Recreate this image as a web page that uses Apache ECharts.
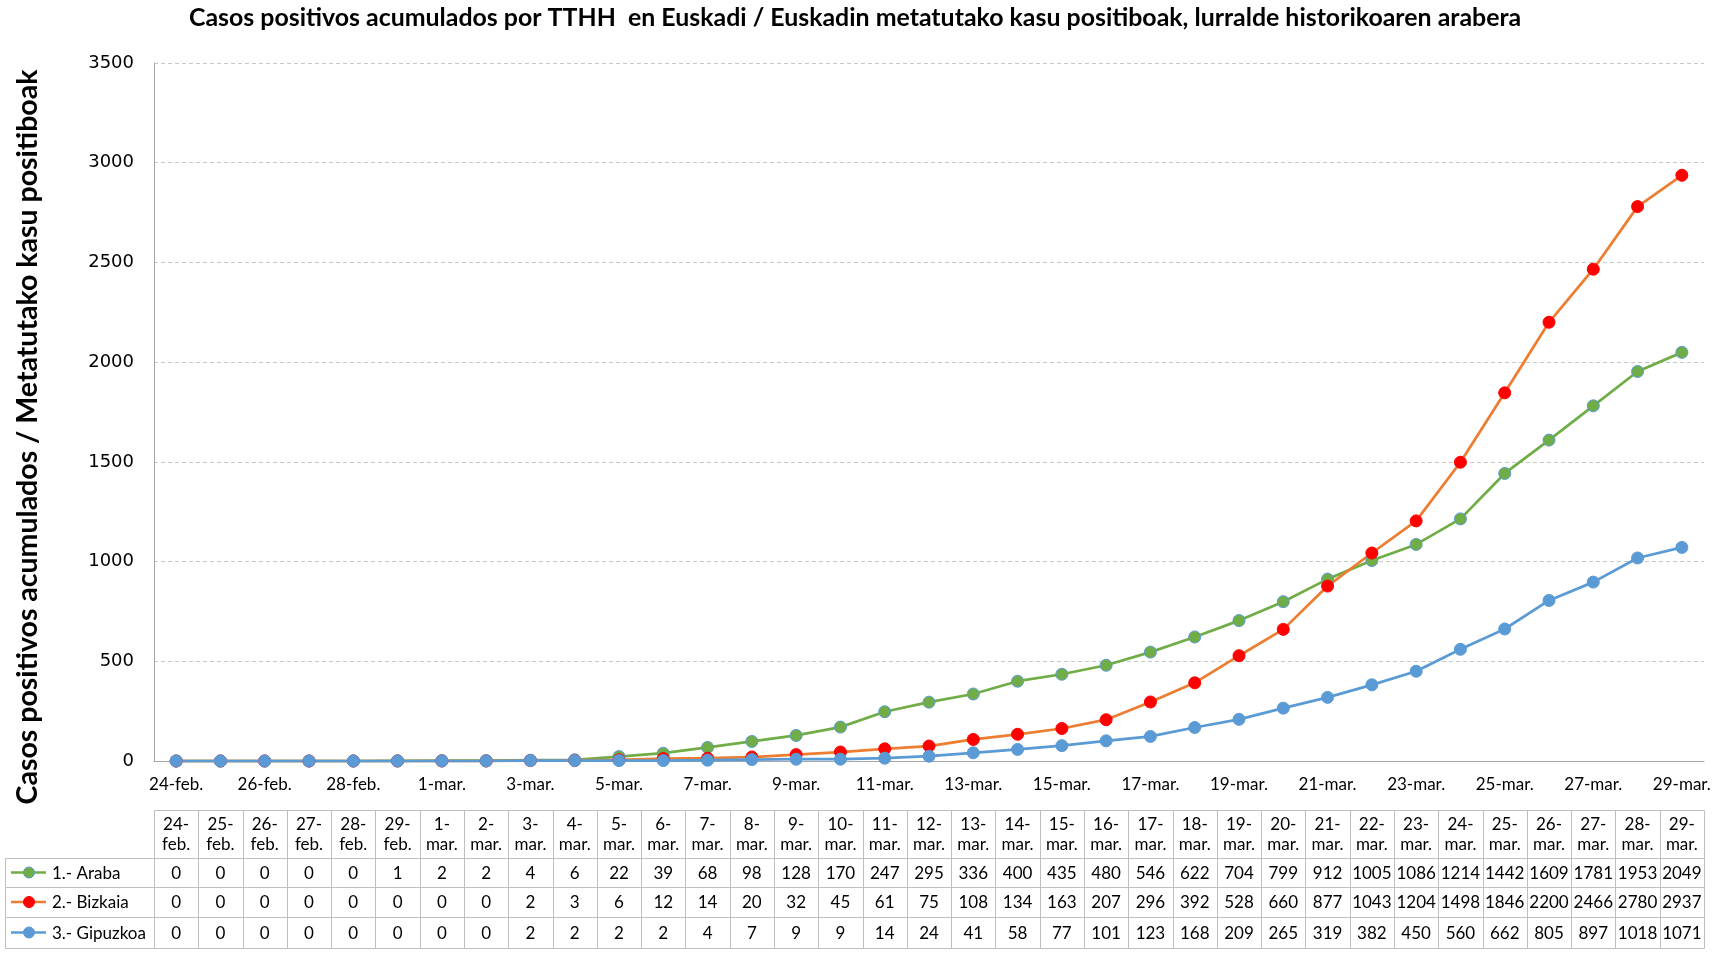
<!DOCTYPE html>
<html>
<head>
<meta charset="utf-8">
<script src="https://cdn.jsdelivr.net/npm/echarts@6/dist/echarts.min.js"></script>
<style>
html,body{margin:0;padding:0;background:#fff;}
#chart{width:1724px;height:965px;}
</style>
</head>
<body>
<div id="chart"></div>
<script>
const chartTitle = 'Casos positivos acumulados por TTHH  en Euskadi / Euskadin metatutako kasu positiboak, lurralde historikoaren arabera';
const yAxisTitle = 'Casos positivos acumulados / Metatutako kasu positiboak';
const dates = ['24-feb.','25-feb.','26-feb.','27-feb.','28-feb.','29-feb.',
  '1-mar.','2-mar.','3-mar.','4-mar.','5-mar.','6-mar.','7-mar.','8-mar.','9-mar.','10-mar.',
  '11-mar.','12-mar.','13-mar.','14-mar.','15-mar.','16-mar.','17-mar.','18-mar.','19-mar.','20-mar.',
  '21-mar.','22-mar.','23-mar.','24-mar.','25-mar.','26-mar.','27-mar.','28-mar.','29-mar.'];
const araba = [0,0,0,0,0,1, 2,2,4,6,22,39,68,98,128,170, 247,295,336,400,435,480,546,622,704,799, 912,1005,1086,1214,1442,1609,1781,1953,2049];
const bizkaia = [0,0,0,0,0,0, 0,0,2,3,6,12,14,20,32,45, 61,75,108,134,163,207,296,392,528,660, 877,1043,1204,1498,1846,2200,2466,2780,2937];
const gipuzkoa = [0,0,0,0,0,0, 0,0,2,2,2,2,4,7,9,9, 14,24,41,58,77,101,123,168,209,265, 319,382,450,560,662,805,897,1018,1071];
const seriesNames = ['1.- Araba','2.- Bizkaia','3.- Gipuzkoa'];
const yTicks = [0,500,1000,1500,2000,2500,3000,3500];

// styles / layout
const lineColors = ['#70AD47','#ED7D31','#5B9BD5'];
const markerColors = ['#70AD47','#FF0000','#5B9BD5'];
const markerBorders = ['#5B9BD5','#FF0000','#5B9BD5'];
const seriesValues = [araba, bizkaia, gipuzkoa];
const rowEdges = [0, 48, 77, 107, 138];
const legendWidth = 149;
const tableFont = 'Lato';

const tableData = [];
for (let i = 0; i < dates.length; i++) {
  for (let r = 0; r < 4; r++) tableData.push([i, r, 0]);
}
for (let r = 1; r < 4; r++) tableData.push([0, r, 1]);

function renderCell(params, api) {
  const col = api.value(0), row = api.value(1), kind = api.value(2);
  const yTop = api.coord([0, rowEdges[row]])[1];
  const yBot = api.coord([0, rowEdges[row + 1]])[1];
  const w = api.size([1, 0])[0];
  let x0, x1;
  if (kind === 0) {
    const cx = api.coord([col, 0])[0];
    x0 = cx - w / 2; x1 = cx + w / 2;
  } else {
    const cx = api.coord([0, 0])[0];
    x1 = cx - w / 2; x0 = x1 - legendWidth;
  }
  const rx0 = Math.round(x0) + 0.5, rx1 = Math.round(x1) + 0.5;
  const ry0 = Math.round(yTop) + 0.5, ry1 = Math.round(yBot) + 0.5;
  const children = [{
    type: 'rect',
    shape: {x: rx0, y: ry0, width: rx1 - rx0, height: ry1 - ry0},
    style: {fill: 'none', stroke: '#BFBFBF', lineWidth: 1}
  }];
  const cy = (yTop + yBot) / 2;
  if (kind === 0) {
    const txt = row === 0 ? dates[col].replace('-', '-\n') : String(seriesValues[row - 1][col]);
    children.push({
      type: 'text',
      style: {
        text: txt, x: (x0 + x1) / 2, y: cy + 1,
        align: 'center', verticalAlign: 'middle',
        font: '17px ' + tableFont, fill: '#000', lineHeight: 20
      }
    });
  } else {
    const s = row - 1;
    children.push({
      type: 'line',
      shape: {x1: x0 + 6, y1: cy, x2: x0 + 41, y2: cy},
      style: {stroke: lineColors[s], lineWidth: 2.5}
    });
    children.push({
      type: 'circle',
      shape: {cx: x0 + 24, cy: cy, r: 5.5},
      style: {fill: markerColors[s], stroke: markerBorders[s], lineWidth: 1}
    });
    children.push({
      type: 'text',
      style: {
        text: seriesNames[s], x: x0 + 47, y: cy + 1,
        align: 'left', verticalAlign: 'middle',
        font: '17px ' + tableFont, fill: '#000'
      }
    });
  }
  return {type: 'group', children: children};
}

const chart = echarts.init(document.getElementById('chart'), null, {renderer: 'canvas'});
const option = {
  animation: false,
  backgroundColor: '#fff',
  title: {
    text: chartTitle,
    left: 184,
    top: 0,
    textStyle: {fontFamily: 'Lato', fontWeight: 'bold', fontSize: 24.9, color: '#000'}
  },
  grid: [
    {left: 154, right: 20, top: 63, height: 698},
    {left: 154, right: 20, top: 810, height: 138}
  ],
  xAxis: [
    {
      type: 'category', gridIndex: 0, data: dates, boundaryGap: true,
      axisLine: {lineStyle: {color: '#A6A6A6', width: 1}},
      axisTick: {show: false},
      axisLabel: {interval: 1, margin: 15, fontFamily: 'Lato', fontSize: 17, color: '#000'},
      splitLine: {show: false}
    },
    {
      type: 'category', gridIndex: 1, data: dates, boundaryGap: true, show: false
    }
  ],
  yAxis: [
    {
      type: 'value', gridIndex: 0, min: yTicks[0], max: yTicks[yTicks.length - 1], interval: yTicks[1] - yTicks[0],
      name: yAxisTitle, nameLocation: 'middle', nameRotate: 90, nameGap: 112,
      nameTextStyle: {fontFamily: 'Lato', fontWeight: 'bold', fontSize: 28.5, color: '#000', padding: [0, 50, 0, 0]},
      axisLine: {show: true, lineStyle: {color: '#A6A6A6', width: 1}},
      axisTick: {show: false},
      axisLabel: {margin: 20, fontFamily: 'DejaVu Sans', fontSize: 18, color: '#000', formatter: v => String(v)},
      splitLine: {show: true, lineStyle: {color: '#C8C8C8', type: [4, 3], width: 1}}
    },
    {
      type: 'value', gridIndex: 1, min: 0, max: rowEdges[rowEdges.length - 1], inverse: true, show: false
    }
  ],
  series: seriesNames.map((n, s) => ({
    name: n,
    type: 'line',
    xAxisIndex: 0, yAxisIndex: 0,
    data: seriesValues[s],
    symbol: 'circle',
    symbolSize: 12,
    showSymbol: true,
    lineStyle: {color: lineColors[s], width: 2.75},
    itemStyle: {color: markerColors[s], borderColor: markerBorders[s], borderWidth: 1}
  })).concat([{
    type: 'custom',
    xAxisIndex: 1, yAxisIndex: 1,
    data: tableData,
    encode: {x: 0, y: 1},
    clip: false,
    silent: true,
    renderItem: renderCell
  }])
};
chart.setOption(option);
</script>
</body>
</html>
